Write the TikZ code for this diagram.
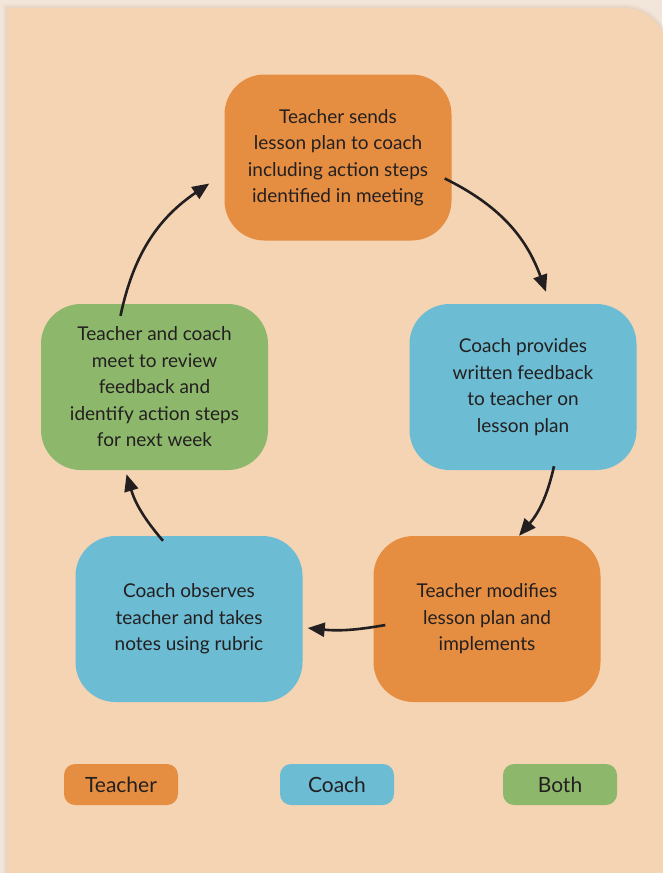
\documentclass[tikz,border=0pt]{standalone}
\usepackage{fontspec}
\setmainfont{Lato}
\usetikzlibrary{arrows.meta,calc}
\definecolor{outerbg}{HTML}{F2E6DA}
\definecolor{rim}{HTML}{E3CFBE}
\definecolor{panel}{HTML}{F5D4B4}
\definecolor{teach}{HTML}{E58E42}
\definecolor{coachc}{HTML}{6CBCD3}
\definecolor{bothc}{HTML}{8DB86C}
\definecolor{ink}{HTML}{231F20}
\tikzset{
  stepbox/.style={rounded corners=40pt, minimum width=227pt, minimum height=166pt,
    inner sep=0pt, align=center, text=ink, font=\fontsize{19}{26.5}\selectfont},
  legbox/.style={rounded corners=11pt, minimum width=114pt, minimum height=41pt,
    inner sep=0pt, text=ink, font=\fontsize{21}{24}\selectfont},
  arr/.style={draw=ink, line width=2.6pt, -{Triangle[length=17pt,width=14pt]}},
}
\begin{document}
\begin{tikzpicture}[x=1pt,y=-1pt]
\useasboundingbox (0,0) rectangle (662,873);
\fill[outerbg] (0,0) rectangle (662,873);
% shadow rim
\foreach \w/\o in {9/0.15,6/0.3,3/0.5}{
  \draw[rim, line width=\w pt, opacity=\o]
    (7,900) -- (7,8) -- (623,8) arc[start angle=-90, end angle=0, radius=45] -- (668,900);
}
\fill[panel] (7,900) -- (7,8) -- (623,8) arc[start angle=-90, end angle=0, radius=45] -- (668,900) -- cycle;

\node[stepbox, fill=teach] (n1) at (338,157.5) {Teacher sends\\lesson plan to coach\\including action steps\\identified in meeting};
\node[stepbox, fill=coachc] (n2) at (523,387) {Coach provides\\written feedback\\to teacher on\\lesson plan};
\node[stepbox, fill=teach] (n3) at (487,619) {Teacher modifies\\lesson plan and\\implements};
\node[stepbox, fill=coachc] (n4) at (189,619) {Coach observes\\teacher and takes\\notes using rubric};
\node[stepbox, fill=bothc] (n5) at (154.5,387) {Teacher and coach\\meet to review\\feedback and\\identify action steps\\for next week};

\draw[arr] ([shift={(-7,21)}]n1.east) to[bend left=22] ([shift={(23,-12)}]n2.north);
\draw[arr] ([shift={(31,-4)}]n2.south) to[bend left=14] ([shift={(32,0)}]n3.north);
\draw[arr] ([shift={(12,6)}]n3.west) to[bend left=8] ([shift={(5,9)}]n4.east);
\draw[arr] ([shift={(-26,5)}]n4.north) to[bend left=12] ([shift={(-28,4)}]n5.south);
\draw[arr] ([shift={(-34,12)}]n5.north) to[bend left=22] ([shift={(-15,26)}]n1.west);

\node[legbox, fill=teach] (l1) at (121,784.5) {Teacher};
\node[legbox, fill=coachc] (l2) at (337,784.5) {Coach};
\node[legbox, fill=bothc] (l3) at (560,784.5) {Both};
\end{tikzpicture}
\end{document}
